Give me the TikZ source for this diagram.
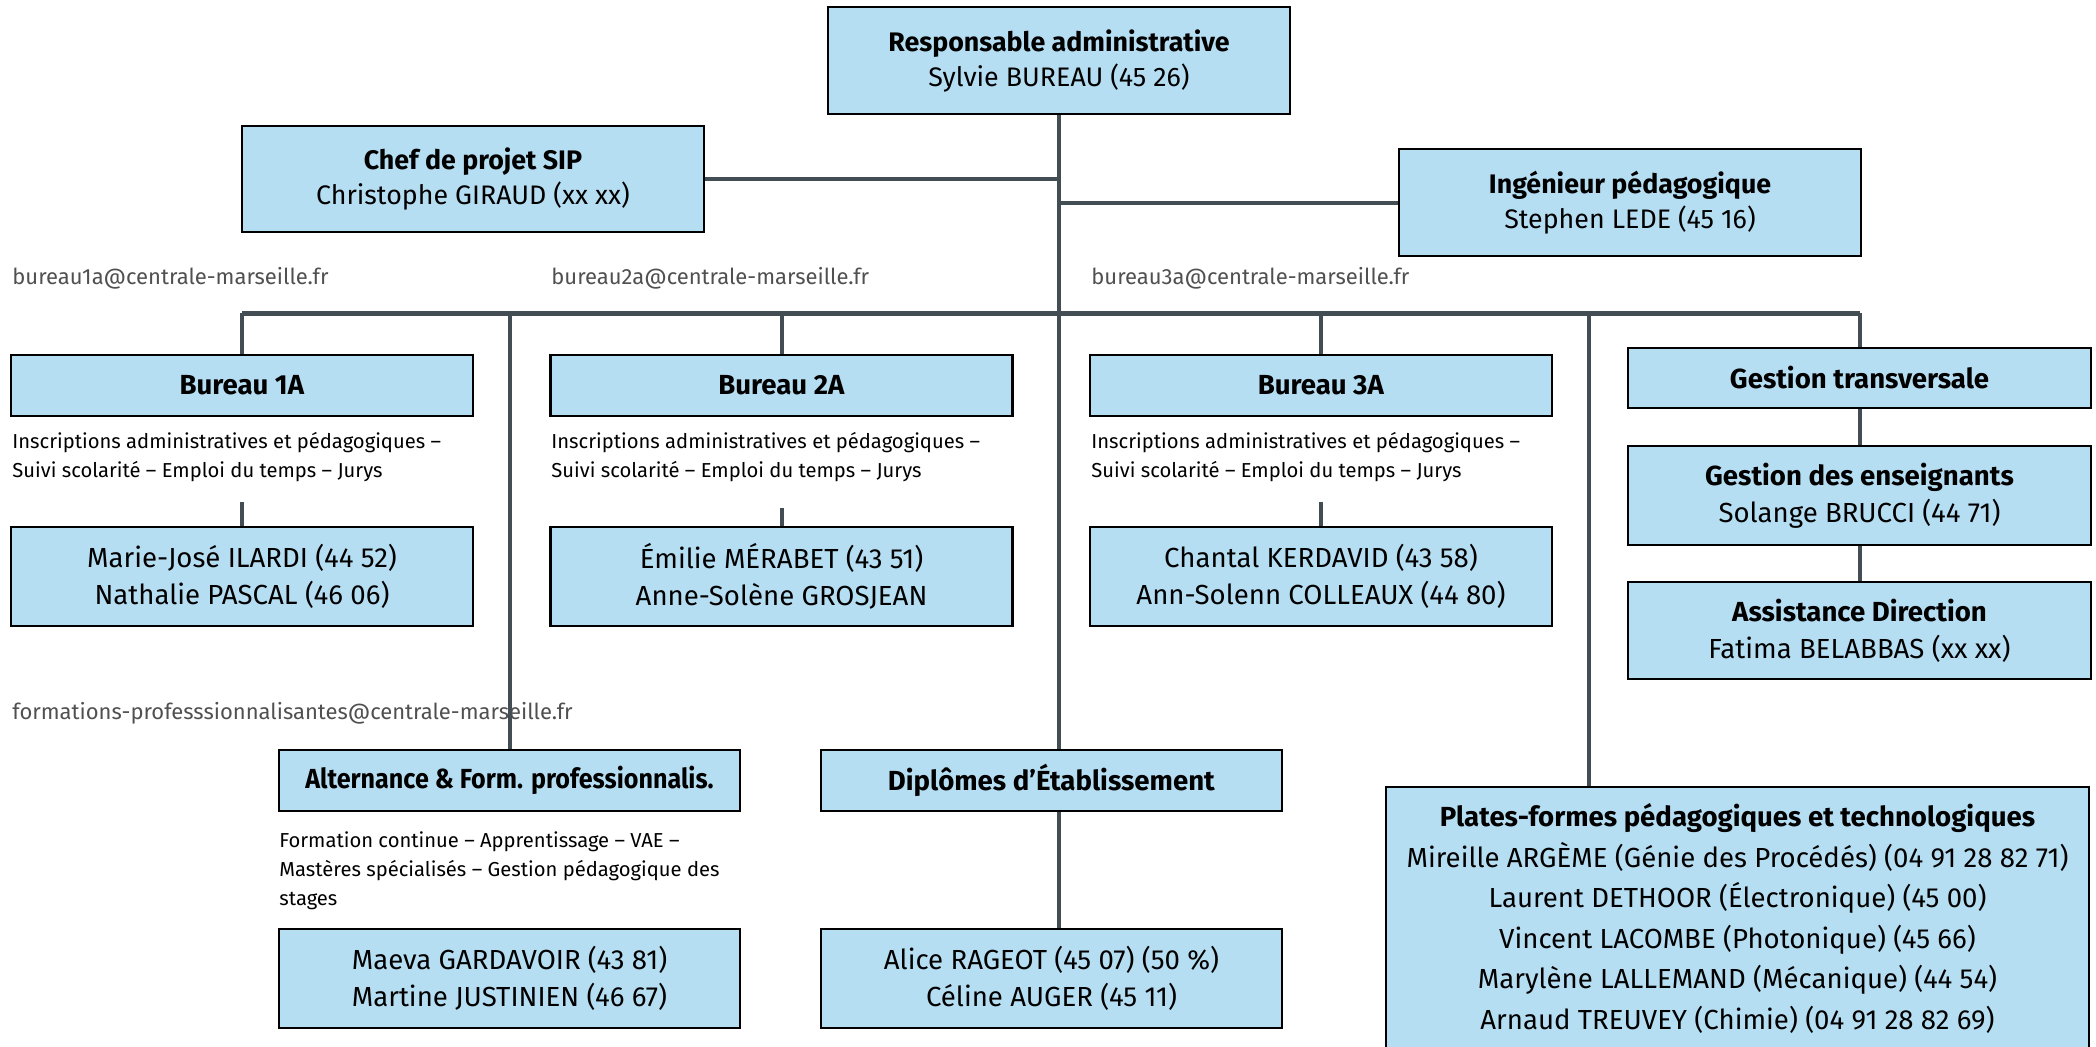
\documentclass[tikz,border=0pt]{standalone}
\usepackage{fontspec}
\setmainfont{Fira Sans}
\newfontfamily\narrowfont{Fira Sans}[FakeStretch=0.91]
\definecolor{boxfill}{RGB}{182,222,243}
\definecolor{linec}{RGB}{67,77,84}
\definecolor{mailc}{RGB}{80,80,80}
\begin{document}
\begin{tikzpicture}[x=0.5pt,y=-0.5pt,
  box/.style={draw=black, line width=1.2pt, fill=boxfill, inner sep=0pt, align=center, text=black, font=\fontsize{13.8}{18.5}\selectfont},
  conn/.style={draw=linec, line width=2pt},
  bus/.style={draw=linec, line width=2.5pt},
  desc/.style={inner sep=0pt, align=left, anchor=west, font=\fontsize{10.1}{14.5}\selectfont},
  mail/.style={inner sep=0pt, anchor=west, text=mailc, font=\fontsize{11}{14}\selectfont}]
\useasboundingbox (0,0) rectangle (2096,1046);
\fill[white] (0,0) rectangle (2096,1046);

% connector anchor points
\coordinate (bus) at (1059,313);
\coordinate (plx) at (1589,313);
\coordinate (s1) at (242,502);
\coordinate (s2) at (781.5,508);
\coordinate (s3) at (1321,502);

% boxes
\node[box, minimum width=231pt, minimum height=53.5pt, font=\fontsize{13.4}{17.5}\selectfont] (resp) at (1059,60.5) {\textbf{Responsable administrative}\\Sylvie BUREAU (45 26)};
\node[box, minimum width=231pt, minimum height=53pt, font=\fontsize{13.4}{17.5}\selectfont] (chef) at (473,179) {\textbf{Chef de projet SIP}\\Christophe GIRAUD (xx xx)};
\node[box, minimum width=231pt, minimum height=53.5pt, font=\fontsize{13.4}{17.5}\selectfont] (inge) at (1630,202.5) {\textbf{Ingénieur pédagogique}\\Stephen LEDE (45 16)};

\node[box, minimum width=231pt, minimum height=30.5pt] (b1) at (242,385.5) {\textbf{Bureau 1A}};
\node[box, minimum width=231pt, minimum height=30.5pt] (b2) at (781.5,385.5) {\textbf{Bureau 2A}};
\node[box, minimum width=231pt, minimum height=30.5pt] (b3) at (1321,385.5) {\textbf{Bureau 3A}};
\node[box, minimum width=231.5pt, minimum height=30pt] (gt) at (1859.5,378) {\textbf{Gestion transversale}};

\node[box, minimum width=231pt, minimum height=49.5pt] (p1) at (242,576.5) {Marie-José ILARDI (44 52)\\Nathalie PASCAL (46 06)};
\node[box, minimum width=231pt, minimum height=49.5pt] (p2) at (781.5,576.5) {Émilie MÉRABET (43 51)\\Anne-Solène GROSJEAN};
\node[box, minimum width=231pt, minimum height=49.5pt] (p3) at (1321,576.5) {Chantal KERDAVID (43 58)\\Ann-Solenn COLLEAUX (44 80)};
\node[box, minimum width=231.5pt, minimum height=49.5pt] (ge) at (1859.5,495.5) {\textbf{Gestion des enseignants}\\Solange BRUCCI (44 71)};
\node[box, minimum width=231.5pt, minimum height=48.5pt] (ad) at (1859.5,630.5) {\textbf{Assistance Direction}\\Fatima BELABBAS (xx xx)};

\node[box, minimum width=230.5pt, minimum height=30.5pt] (alt) at (509.5,780.5) {\narrowfont\textbf{Alternance \& Form. professionnalis.}};
\node[box, minimum width=230.5pt, minimum height=30.5pt] (dipl) at (1051.5,780.5) {\textbf{Diplômes d’Établissement}};
\node[box, minimum width=230.5pt, minimum height=49.5pt] (mg) at (509.5,978.5) {Maeva GARDAVOIR (43 81)\\Martine JUSTINIEN (46 67)};
\node[box, minimum width=230.5pt, minimum height=49.5pt] (ar) at (1051.5,978.5) {Alice RAGEOT (45 07) (50 \%)\\Céline AUGER (45 11)};
\node[box, minimum width=351.5pt, minimum height=131.5pt, font=\fontsize{13.8}{20.3}\selectfont] (plat) at (1737.5,918.5) {\textbf{Plates-formes pédagogiques et technologiques}\\Mireille ARGÈME (Génie des Procédés) (04 91 28 82 71)\\Laurent DETHOOR (Électronique) (45 00)\\Vincent LACOMBE (Photonique) (45 66)\\Marylène LALLEMAND (Mécanique) (44 54)\\Arnaud TREUVEY (Chimie) (04 91 28 82 69)};

% texts
\node[mail] (m1) at (12,278) {bureau1a@centrale-marseille.fr};
\node[mail] (m2) at (551,278) {bureau2a@centrale-marseille.fr};
\node[mail] (m3) at (1091,278) {bureau3a@centrale-marseille.fr};
\node[mail] (m4) at (12,713) {formations-professsionnalisantes@centrale-marseille.fr};
\node[desc] (d1) at (12,457.5) {Inscriptions administratives et pédagogiques –\\Suivi scolarité – Emploi du temps – Jurys};
\node[desc] (d2) at (551,457.5) {Inscriptions administratives et pédagogiques –\\Suivi scolarité – Emploi du temps – Jurys};
\node[desc] (d3) at (1091,457.5) {Inscriptions administratives et pédagogiques –\\Suivi scolarité – Emploi du temps – Jurys};
\node[desc] (d4) at (279,871) {Formation continue – Apprentissage – VAE –\\Mastères spécialisés – Gestion pédagogique des\\stages};

% lines
\draw[conn] (resp.south) -- (resp.south |- dipl.north);
\draw[conn] (resp.south |- dipl.south) -- (resp.south |- ar.north);
\draw[conn] (chef.east) -- (chef.east -| resp.south);
\draw[conn] (inge.west) -- (inge.west -| resp.south);
\draw[bus] (b1.north |- bus) -- (gt.north |- bus);
\draw[conn] (b1.north |- bus) -- (b1.north);
\draw[conn] (b2.north |- bus) -- (b2.north);
\draw[conn] (b3.north |- bus) -- (b3.north);
\draw[conn] (gt.north |- bus) -- (gt.north);
\draw[conn] (alt.north |- bus) -- (alt.north);
\draw[conn] (plx) -- (plx |- plat.north);
\draw[conn] (s1) -- (p1.north);
\draw[conn] (s2) -- (p2.north);
\draw[conn] (s3) -- (p3.north);
\draw[conn] (gt.south) -- (ge.north);
\draw[conn] (ge.south) -- (ad.north);
\end{tikzpicture}
\end{document}
